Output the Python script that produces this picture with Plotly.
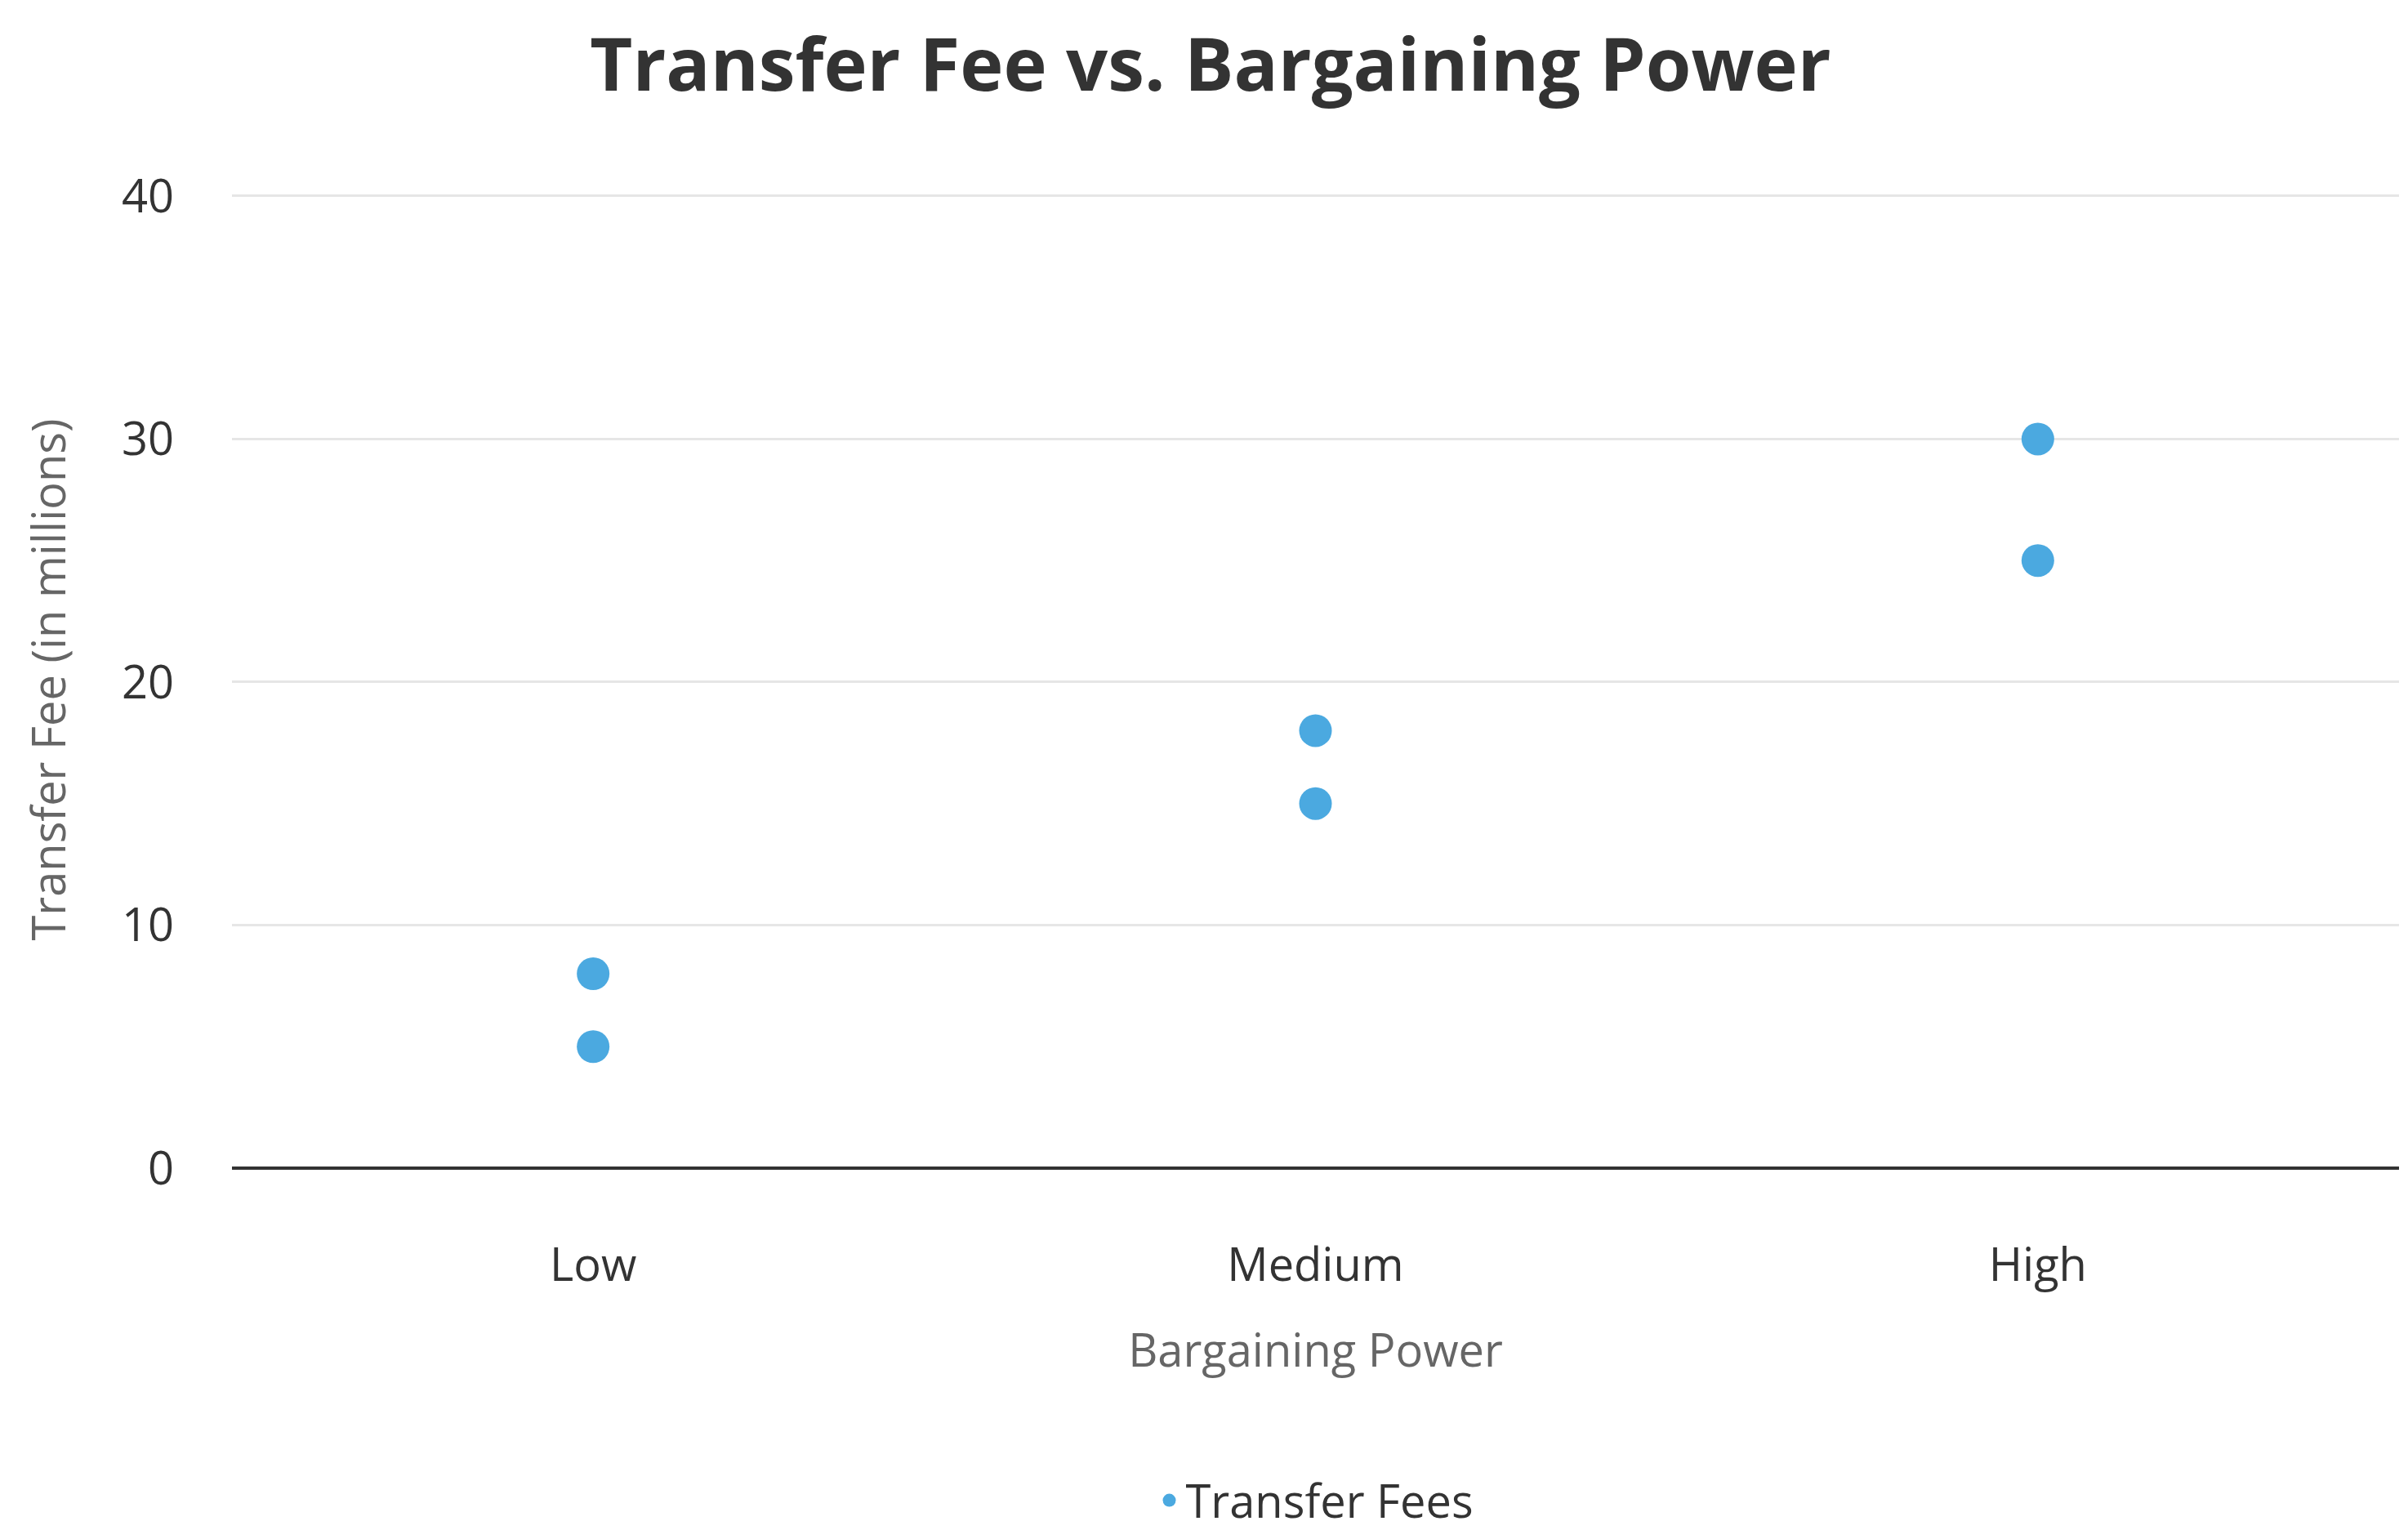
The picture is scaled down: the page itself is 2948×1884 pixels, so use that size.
import plotly.graph_objects as go

categories = ['Low', 'Low', 'Medium', 'Medium', 'High', 'High']
fees = [8, 5, 18, 15, 30, 25]
y_ticks = [0, 10, 20, 30, 40]

fig = go.Figure()
fig.add_trace(go.Scatter(x=categories, y=fees, mode='markers', name='Transfer Fees',
                         marker=dict(color='#4BA9E0', size=40)))
fig.update_layout(
    width=2948, height=1884,
    paper_bgcolor='white', plot_bgcolor='white',
    font=dict(family='Open Sans, Noto Sans, sans-serif', color='#333333', size=56),
    title=dict(text='<b>Transfer Fee vs. Bargaining Power</b>', x=0.5, xanchor='center',
               y=0.962, yanchor='middle', font=dict(size=90, color='#333333')),
    margin=dict(l=276, r=19, t=226, b=453),
    showlegend=True,
    legend=dict(orientation='h', x=0.5, xanchor='center', y=-0.34, yanchor='middle',
                font=dict(size=56, color='#333333')),
)
fig.update_xaxes(type='category', categoryorder='array', categoryarray=['Low', 'Medium', 'High'],
                 range=[-0.5, 2.5], showgrid=False, showline=False,
                 ticks='outside', ticklen=70, tickcolor='rgba(0,0,0,0)',
                 title=dict(text='Bargaining Power', font=dict(size=56, color='#666666'), standoff=50),
                 tickfont=dict(size=56, color='#333333'))
fig.update_yaxes(range=[0, 40.2], tickvals=y_ticks, showgrid=True, gridcolor='#e6e6e6', gridwidth=3,
                 zeroline=True, zerolinecolor='#333333', zerolinewidth=4,
                 ticks='', ticklabelstandoff=70,
                 title=dict(text='Transfer Fee (in millions)', font=dict(size=56, color='#666666'), standoff=50),
                 tickfont=dict(size=56, color='#333333'))
fig.write_html("out.html")
